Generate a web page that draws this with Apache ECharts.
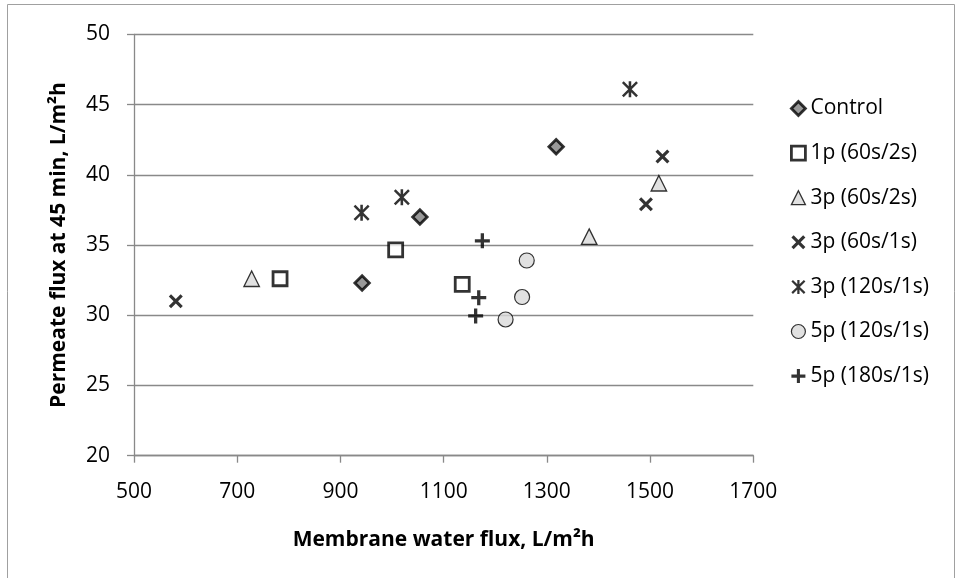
<!DOCTYPE html>
<html>
<head>
<meta charset="utf-8">
<script src="https://cdn.jsdelivr.net/npm/echarts@6/dist/echarts.min.js"></script>
<style>
  html, body { margin: 0; padding: 0; background: #ffffff; }
  #chart { width: 958px; height: 578px; }
</style>
</head>
<body>
<div id="chart"></div>
<script>
// Membrane water flux (x, L/m²h) vs permeate flux at 45 min (y, L/m²h)
const seriesNames = [
  'Control', '1p (60s/2s)', '3p (60s/2s)', '3p (60s/1s)',
  '3p (120s/1s)', '5p (120s/1s)', '5p (180s/1s)'
];
const control     = [[942, 32.3], [1054, 37.0], [1318, 42.0]];
const p1_60_2     = [[783, 32.6], [1007, 34.65], [1136, 32.2]];
const p3_60_2     = [[728, 32.6], [1382, 35.6], [1517, 39.4]];
const p3_60_1     = [[581, 31.0], [1492, 37.9], [1524, 41.3]];
const p3_120_1    = [[941, 37.3], [1019, 38.4], [1461, 46.1]];
const p5_120_1    = [[1220, 29.7], [1252, 31.3], [1261, 33.9]];
const p5_180_1    = [[1162, 29.95], [1168, 31.25], [1175, 35.3]];

const xTicks = { min: 500, max: 1700, step: 200 };
const yTicks = { min: 20, max: 50, step: 5 };

const FONT = '"Open Sans", "Noto Sans", sans-serif';

// Marker glyphs
const crossPath = 'path://M0 16 L16 0 L50 34 L84 0 L100 16 L66 50 L100 84 L84 100 L50 66 L16 100 L0 84 L34 50 Z';
const starPath = 'path://M0 11 L11 0 L50 39 L89 0 L100 11 L61 50 L100 89 L89 100 L50 61 L11 100 L0 89 L39 50 Z M42 0 L58 0 L58 100 L42 100 Z';
const plusPath = 'path://M39 0 L61 0 L61 39 L100 39 L100 61 L61 61 L61 100 L39 100 L39 61 L0 61 L0 39 L39 39 Z';

const seriesData = [control, p1_60_2, p3_60_2, p3_60_1, p3_120_1, p5_120_1, p5_180_1];
const markerStyles = [
  { symbol: 'diamond',  size: 14.5, item: { color: '#7f7f7f', borderColor: '#000', borderWidth: 2.8 } },
  { symbol: 'rect',     size: 14,   item: { color: '#ffffff', borderColor: '#000', borderWidth: 2.8 } },
  { symbol: 'triangle', size: 15.5, item: { color: '#d9d9d9', borderColor: '#000', borderWidth: 1.3 } },
  { symbol: crossPath,  size: 14,   item: { color: '#000000', borderWidth: 0 } },
  { symbol: starPath,   size: 16,   item: { color: '#000000', borderWidth: 0 } },
  { symbol: 'circle',   size: 15,   item: { color: '#d9d9d9', borderColor: '#000', borderWidth: 1.2 } },
  { symbol: plusPath,   size: 15,   item: { color: '#000000', borderWidth: 0 } }
];

const chart = echarts.init(document.getElementById('chart'), null, { renderer: 'canvas' });

const gridColor = '#898989';

chart.setOption({
  backgroundColor: '#ffffff',
  animation: false,
  textStyle: { fontFamily: FONT },
  graphic: [{
    type: 'rect',
    shape: { x: 7.5, y: 4.5, width: 947, height: 600 },
    style: { fill: 'none', stroke: '#a0a0a0', lineWidth: 1 },
    silent: true
  }],
  grid: { left: 134, right: 204.7, top: 34.4, bottom: 122.3, containLabel: false },
  legend: {
    orient: 'vertical',
    left: 790,
    top: 98,
    padding: 0,
    itemGap: 23.6,
    itemWidth: 14,
    itemHeight: 14,
    textStyle: { fontFamily: FONT, fontSize: 21, color: '#000' },
    data: seriesNames.map((name, i) => ({
      name: name,
      itemStyle: Object.assign({}, markerStyles[i].item)
    }))
  },
  xAxis: {
    type: 'value',
    min: xTicks.min, max: xTicks.max, interval: xTicks.step,
    name: 'Membrane water flux, L/m²h',
    nameLocation: 'middle',
    nameGap: 74,
    nameTextStyle: { fontFamily: FONT, fontSize: 21, fontWeight: 'bold', color: '#000' },
    axisLine: { show: true, lineStyle: { color: gridColor, width: 1.3 } },
    axisTick: { show: true, length: 7, lineStyle: { color: gridColor, width: 1.3 } },
    axisLabel: { margin: 26, fontFamily: FONT, fontSize: 21, color: '#000', formatter: v => String(v) },
    splitLine: { show: false }
  },
  yAxis: {
    type: 'value',
    min: yTicks.min, max: yTicks.max, interval: yTicks.step,
    name: 'Permeate flux at 45 min, L/m²h',
    nameLocation: 'middle',
    nameGap: 64,
    nameRotate: 90,
    nameTextStyle: { fontFamily: FONT, fontSize: 21, fontWeight: 'bold', color: '#000' },
    axisLine: { show: true, lineStyle: { color: gridColor, width: 1.3 } },
    axisTick: { show: true, length: 7, lineStyle: { color: gridColor, width: 1.3 } },
    axisLabel: { margin: 24, fontFamily: FONT, fontSize: 21, color: '#000', formatter: v => String(v) },
    splitLine: { show: true, lineStyle: { color: gridColor, width: 1.3 } }
  },
  series: seriesNames.map((name, i) => ({
    name: name,
    type: 'scatter',
    data: seriesData[i],
    symbol: markerStyles[i].symbol,
    symbolSize: markerStyles[i].size,
    itemStyle: markerStyles[i].item,
    emphasis: { disabled: true }
  }))
});
</script>
</body>
</html>
